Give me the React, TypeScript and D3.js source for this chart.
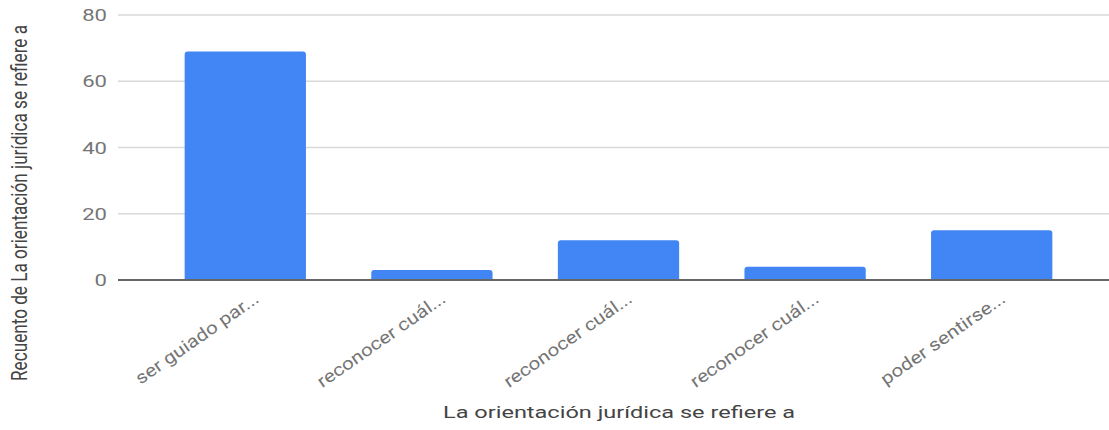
import React from "react";
import * as d3 from "d3";

const categories = [
  "ser guiado par...",
  "reconocer cuál...",
  "reconocer cuál... ",
  "reconocer cuál...  ",
  "poder sentirse...",
];
const values = [69, 3, 12, 4, 15];
const yTicks = [0, 20, 40, 60, 80];
const xTitle = "La orientación jurídica se refiere a";
const yTitle = "Recuento de La orientación jurídica se refiere a";

const W = 1109;
const H = 430;

function barPath(x: number, y: number, w: number, h: number, r: number) {
  const rr = Math.min(r, h / 2, w / 2);
  return `M${x},${y + h}V${y + rr}Q${x},${y} ${x + rr},${y}H${x + w - rr}Q${x + w},${y} ${x + w},${y + rr}V${y + h}Z`;
}

export default function App() {
  const y = d3.scaleLinear().domain([0, 80]).range([280, 15]);
  const x = d3
    .scaleBand<string>()
    .domain(categories)
    .range([152, 1085])
    .paddingInner(0.35)
    .paddingOuter(0.175);

  return (
    <svg
      width={W}
      height={H}
      style={{ position: "absolute", left: 0, top: 0, display: "block" }}
      fontFamily="Roboto, Arial, sans-serif"
    >
      <rect width={W} height={H} fill="#fff" />
      {yTicks.map((t) =>
        t === 0 ? null : (
          <line key={"g" + t} x1={118} x2={W} y1={y(t)} y2={y(t)} stroke="#d9d9d9" strokeWidth={1.5} />
        )
      )}
      {yTicks.map((t) => (
        <g key={"t" + t} transform={`translate(107,${y(t)}) scale(1.3,1)`}>
          <text textAnchor="end" dy="0.36em" fontSize={17} fill="#757575">
            {t}
          </text>
        </g>
      ))}
      {values.map((v, i) => {
        const bx = x(categories[i])!;
        const bw = x.bandwidth();
        return <path key={"b" + i} d={barPath(bx, y(v), bw, y(0) - y(v), 3)} fill="#4285F4" />;
      })}
      <line x1={118} x2={W} y1={y(0)} y2={y(0)} stroke="#666" strokeWidth={2} />
      {categories.map((c, i) => {
        const cx = x(c)! + x.bandwidth() / 2 + 8;
        return (
          <g key={"c" + i} transform={`translate(${cx},291) rotate(-35)`}>
            <text textAnchor="end" dy="0.7em" fontSize={17.5} fill="#757575" transform="scale(1.18,1)">
              {c.trim()}
            </text>
          </g>
        );
      })}
      <text
        x={619}
        y={418}
        textAnchor="middle"
        fontSize={17}
        fill="#444"
        textLength={352}
        lengthAdjust="spacingAndGlyphs"
      >
        {xTitle}
      </text>
      <g transform="translate(27,203) rotate(-90) scale(1,1.25)">
        <text
          textAnchor="middle"
          fontSize={17}
          fill="#444"
          textLength={356}
          lengthAdjust="spacingAndGlyphs"
        >
          {yTitle}
        </text>
      </g>
    </svg>
  );
}
